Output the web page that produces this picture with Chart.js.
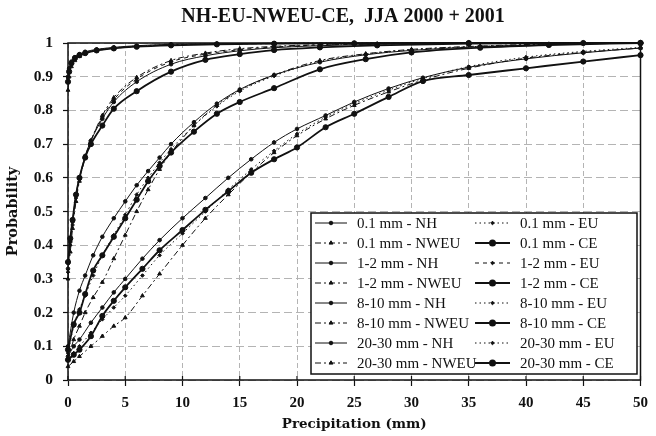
<!DOCTYPE html>
<html>
<head>
<meta charset="utf-8">
<script src="https://cdn.jsdelivr.net/npm/chart.js@4.4.1/dist/chart.umd.min.js"></script>
<style>
  html, body { margin: 0; padding: 0; background: #fff; }
  canvas { display: block; }
</style>
</head>
<body>
<canvas id="chart" width="656" height="436"></canvas>
<script>
// ─── DATA ────────────────────────────────────────────────────────────────────
const chartTitle = 'NH-EU-NWEU-CE,  JJA 2000 + 2001';
const regions = ['NH', 'EU', 'NWEU', 'CE'];
const xTickLabels = ['0', '5', '10', '15', '20', '25', '30', '35', '40', '45', '50'];
const yTickLabels = ['0', '0.1', '0.2', '0.3', '0.4', '0.5', '0.6', '0.7', '0.8', '0.9', '1'];

// 0.1 mm
const xs01    = [0, 0.1, 0.3, 0.6, 1, 1.5, 2.5, 4, 6, 9, 13, 18, 25, 35, 50];
const p01NH   = [0.900, 0.925, 0.945, 0.958, 0.967, 0.974, 0.981, 0.987, 0.992, 0.996, 0.998, 0.999, 1, 1, 1];
const p01EU   = [0.895, 0.920, 0.940, 0.955, 0.965, 0.972, 0.980, 0.986, 0.991, 0.995, 0.997, 0.999, 1, 1, 1];
const p01NWEU = [0.860, 0.900, 0.930, 0.948, 0.960, 0.968, 0.977, 0.984, 0.990, 0.994, 0.997, 0.998, 0.999, 1, 1];
const p01CE   = [0.885, 0.915, 0.940, 0.955, 0.964, 0.970, 0.978, 0.984, 0.989, 0.993, 0.996, 0.998, 0.999, 1, 1];

// 1-2 mm
const xs12    = [0, 0.2, 0.4, 0.7, 1, 1.5, 2, 3, 4, 6, 9, 12, 15, 18, 22, 27, 35, 45, 50];
const p12NH   = [0.33, 0.41, 0.47, 0.55, 0.600, 0.665, 0.71, 0.775, 0.825, 0.885, 0.937, 0.962, 0.977, 0.986, 0.992, 0.996, 0.999, 1, 1];
const p12EU   = [0.32, 0.40, 0.46, 0.54, 0.595, 0.660, 0.71, 0.780, 0.832, 0.893, 0.944, 0.967, 0.980, 0.988, 0.994, 0.997, 0.999, 1, 1];
const p12NWEU = [0.30, 0.38, 0.45, 0.53, 0.590, 0.660, 0.71, 0.785, 0.838, 0.898, 0.948, 0.970, 0.983, 0.990, 0.995, 0.998, 1, 1, 1];
const p12CE   = [0.35, 0.42, 0.475, 0.55, 0.600, 0.660, 0.70, 0.755, 0.805, 0.857, 0.915, 0.950, 0.967, 0.979, 0.987, 0.993, 0.998, 1, 1];

// 8-10 mm
const xs810    = [0, 0.5, 1, 1.5, 2.2, 3, 4, 5, 6, 7, 8, 9, 11, 13, 15, 18, 22, 26, 30, 36, 42, 50];
const p810NH   = [0.10, 0.20, 0.265, 0.31, 0.370, 0.425, 0.48, 0.53, 0.578, 0.620, 0.660, 0.700, 0.765, 0.820, 0.862, 0.905, 0.943, 0.965, 0.978, 0.989, 0.995, 1];
const p810EU   = [0.08, 0.16, 0.210, 0.25, 0.310, 0.370, 0.43, 0.49, 0.550, 0.600, 0.645, 0.685, 0.755, 0.812, 0.857, 0.902, 0.945, 0.967, 0.980, 0.990, 0.996, 1];
const p810NWEU = [0.06, 0.12, 0.160, 0.20, 0.245, 0.290, 0.36, 0.43, 0.500, 0.565, 0.625, 0.675, 0.755, 0.815, 0.860, 0.905, 0.948, 0.968, 0.981, 0.991, 0.997, 1];
const p810CE   = [0.09, 0.165, 0.200, 0.255, 0.325, 0.370, 0.425, 0.48, 0.535, 0.590, 0.635, 0.675, 0.737, 0.790, 0.825, 0.866, 0.922, 0.952, 0.972, 0.986, 0.994, 1];

// 20-30 mm
const xs2030    = [0, 0.5, 1, 2, 3, 4, 5, 6.5, 8, 10, 12, 14, 16, 18, 20, 22.5, 25, 28, 31, 35, 40, 45, 50];
const p2030NH   = [0.07, 0.100, 0.12, 0.17, 0.215, 0.260, 0.300, 0.36, 0.415, 0.480, 0.540, 0.600, 0.655, 0.705, 0.745, 0.785, 0.825, 0.865, 0.897, 0.928, 0.953, 0.971, 0.985];
const p2030EU   = [0.06, 0.080, 0.10, 0.14, 0.180, 0.215, 0.250, 0.31, 0.370, 0.435, 0.500, 0.565, 0.625, 0.680, 0.730, 0.780, 0.820, 0.860, 0.895, 0.930, 0.958, 0.975, 0.987];
const p2030NWEU = [0.04, 0.055, 0.07, 0.10, 0.130, 0.160, 0.185, 0.25, 0.315, 0.400, 0.480, 0.550, 0.615, 0.675, 0.725, 0.775, 0.815, 0.855, 0.890, 0.925, 0.955, 0.972, 0.985];
const p2030CE   = [0.06, 0.075, 0.09, 0.13, 0.190, 0.235, 0.275, 0.33, 0.385, 0.445, 0.505, 0.560, 0.615, 0.655, 0.690, 0.750, 0.790, 0.840, 0.887, 0.905, 0.925, 0.945, 0.964];

const groups = [
  { name: '0.1 mm',   xs: xs01,   ys: { NH: p01NH,   EU: p01EU,   NWEU: p01NWEU,   CE: p01CE } },
  { name: '1-2 mm',   xs: xs12,   ys: { NH: p12NH,   EU: p12EU,   NWEU: p12NWEU,   CE: p12CE } },
  { name: '8-10 mm',  xs: xs810,  ys: { NH: p810NH,  EU: p810EU,  NWEU: p810NWEU,  CE: p810CE } },
  { name: '20-30 mm', xs: xs2030, ys: { NH: p2030NH, EU: p2030EU, NWEU: p2030NWEU, CE: p2030CE } },
];

// ─── STYLE ───────────────────────────────────────────────────────────────────
const SERIF = "'Liberation Serif', 'Times New Roman', serif";
const SLAB = "'DejaVu Serif', serif";
const INK = '#111';
const GRID = '#b4b4b4';

const regionStyle = {
  NH:   { borderWidth: 1,   borderDash: [],           pointStyle: 'circle',   pointRadius: 1.8 },
  EU:   { borderWidth: 1,   borderDash: [1.5, 3],     pointStyle: 'rectRot',  pointRadius: 1.8 },
  NWEU: { borderWidth: 1,   borderDash: [6, 3, 2, 3], pointStyle: 'triangle', pointRadius: 2.2 },
  CE:   { borderWidth: 1.8, borderDash: [],           pointStyle: 'circle',   pointRadius: 2.6 },
};

const datasets = groups.flatMap(g => regions.map(r => {
  const st = { ...regionStyle[r] };
  if (g.name === '1-2 mm' && r === 'EU') st.borderDash = [4, 4];
  return {
    label: `${g.name} - ${r}`,
    data: g.xs.map((x, i) => ({ x, y: g.ys[r][i] })),
    ...st,
    borderColor: INK,
    backgroundColor: INK,
    pointBorderColor: INK,
    pointBackgroundColor: INK,
    pointBorderWidth: 1,
    cubicInterpolationMode: 'monotone',
    clip: 6,
  };
}));

// ─── DECOR: frame, title, legend ─────────────────────────────────────────────
const decor = {
  id: 'decor',
  afterDraw(chart) {
    const { ctx, chartArea: a, scales } = chart;
    ctx.save();
    // plot frame
    ctx.setLineDash([]);
    ctx.strokeStyle = INK;
    ctx.lineWidth = 1.5;
    ctx.strokeRect(a.left, a.top, a.right - a.left, a.bottom - a.top);
    // x ticks crossing the axis
    ctx.lineWidth = 1.2;
    scales.x.ticks.forEach(t => {
      const px = scales.x.getPixelForValue(t.value);
      ctx.beginPath(); ctx.moveTo(px, a.bottom - 4); ctx.lineTo(px, a.bottom); ctx.stroke();
    });

    // title
    ctx.fillStyle = INK;
    ctx.font = `bold 20px ${SERIF}`;
    ctx.textAlign = 'center';
    ctx.textBaseline = 'middle';
    ctx.fillText(chartTitle, 343, 17);

    // legend box
    const bx = 311, by = 213, bw = 326, bh = 161;
    ctx.fillStyle = '#fff';
    ctx.fillRect(bx, by, bw, bh);
    ctx.lineWidth = 1.5;
    ctx.strokeStyle = INK;
    ctx.strokeRect(bx, by, bw, bh);

    ctx.font = `15px ${SERIF}`;
    ctx.textAlign = 'left';
    chart.data.datasets.forEach((ds, i) => {
      const row = Math.floor(i / 2), col = i % 2;
      const y = 223 + row * 20;
      const x0 = col ? 475 : 315, x1 = col ? 510 : 347, tx = col ? 520 : 357;
      ctx.strokeStyle = INK;
      ctx.lineWidth = ds.borderWidth;
      ctx.setLineDash(ds.borderDash);
      ctx.beginPath(); ctx.moveTo(x0, y); ctx.lineTo(x1, y); ctx.stroke();
      ctx.setLineDash([]);
      ctx.fillStyle = INK;
      Chart.helpers.drawPoint(ctx, {
        pointStyle: ds.pointStyle, radius: ds.pointRadius, rotation: 0, borderWidth: 1
      }, (x0 + x1) / 2, y);
      ctx.fillStyle = INK;
      ctx.fillText(ds.label, tx, y + 1);
    });
    ctx.restore();
  }
};

// ─── CHART ───────────────────────────────────────────────────────────────────
Chart.defaults.font.family = SERIF;
Chart.defaults.color = INK;

new Chart(document.getElementById('chart').getContext('2d'), {
  type: 'line',
  data: { datasets },
  options: {
    responsive: false,
    animation: false,
    layout: { padding: { top: 43, right: 9, bottom: 0, left: 0 } },
    plugins: { legend: { display: false }, tooltip: { enabled: false }, title: { display: false } },
    scales: {
      x: {
        type: 'linear', min: 0, max: 50,
        ticks: { stepSize: 5, callback: (v, i) => xTickLabels[i], font: { size: 15, weight: 'bold' }, color: INK, padding: 8, maxRotation: 0 },
        grid: { color: GRID, lineWidth: 1, tickLength: 6, tickColor: INK, tickWidth: 1.2, tickBorderDash: [] },
        border: { display: false, dash: [5, 3] },
        title: { display: true, text: 'Precipitation (mm)', font: { family: SLAB, size: 13.5, weight: 'bold' }, color: INK, padding: { top: 0, bottom: 3 } },
        afterFit: s => { s.height = 56; },
      },
      y: {
        min: 0, max: 1,
        ticks: { stepSize: 0.1, callback: (v, i) => yTickLabels[i], font: { size: 15.5, weight: 'bold' }, color: INK, padding: 10 },
        grid: { color: GRID, lineWidth: 1, tickLength: 5, tickColor: INK, tickWidth: 1.2, tickBorderDash: [] },
        border: { display: false, dash: [8, 4] },
        title: { display: true, text: 'Probability', font: { family: SLAB, size: 14.5, weight: 'bold' }, color: INK, padding: { top: 5, bottom: 0 } },
        afterFit: s => { s.width = 68; },
      },
    },
  },
  plugins: [decor],
});
</script>
</body>
</html>
